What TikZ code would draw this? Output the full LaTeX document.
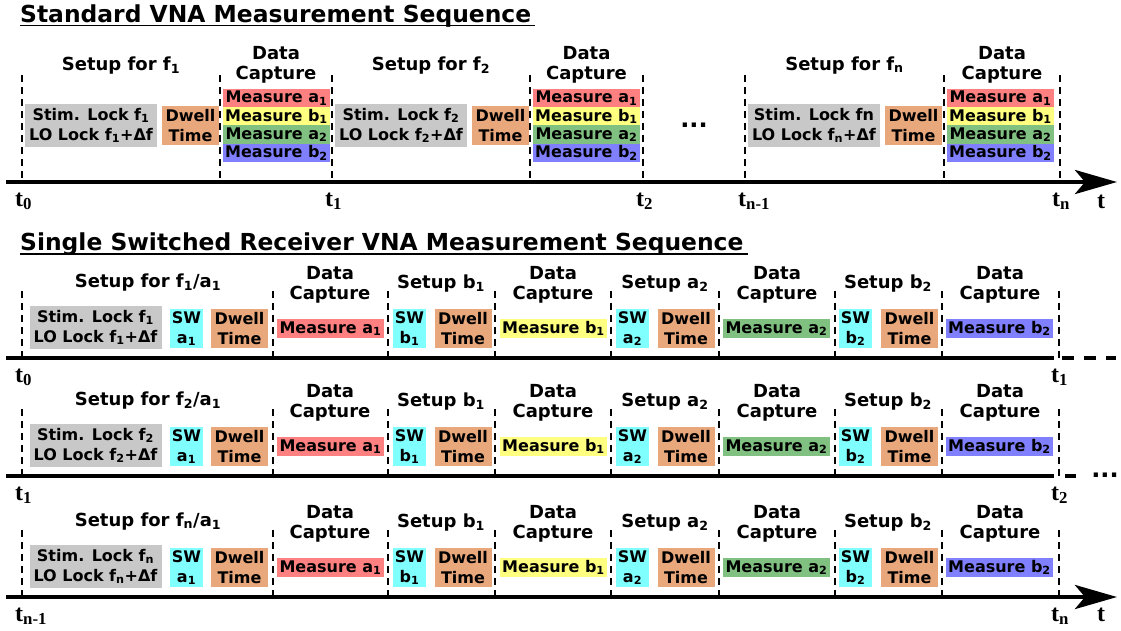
\documentclass[tikz,border=0pt]{standalone}
\usepackage{fontspec}
\setmainfont{DejaVu Sans}
\newfontfamily\tfont{Liberation Serif}
\usetikzlibrary{arrows.meta}

\definecolor{stimgray}{RGB}{200,200,200}
\definecolor{dwellorange}{RGB}{233,168,124}
\definecolor{swcyan}{RGB}{128,255,255}
\definecolor{measred}{RGB}{255,128,128}
\definecolor{measyellow}{RGB}{255,255,128}
\definecolor{measgreen}{RGB}{128,192,128}
\definecolor{measblue}{RGB}{128,128,255}
\newcommand{\sub}[1]{\textsubscript{#1}}

\begin{document}
\begin{tikzpicture}[x=1pt, y=-1pt,
  title/.style={font=\fontsize{23.4}{26}\selectfont\bfseries, anchor=base west, inner sep=0},
  head/.style={font=\fontsize{18}{20}\selectfont\bfseries, align=center, inner sep=0},
  box/.style={font=\fontsize{16}{20}\selectfont\bfseries, align=center, inner sep=0},
  stim/.style={box, fill=stimgray, minimum width=132pt, minimum height=43pt},
  dwell/.style={box, fill=dwellorange, minimum width=57pt, minimum height=39pt},
  sw/.style={box, fill=swcyan, minimum width=33pt, minimum height=39pt},
  meas/.style={box, minimum width=107pt, minimum height=18.2pt},
  tick/.style={font=\fontsize{24}{24}\selectfont\tfont\bfseries, anchor=base west, inner sep=0},
  dots/.style={font=\fontsize{24}{24}\selectfont\bfseries, inner sep=0},
  sep/.style={line width=2.6pt, dash pattern=on 7pt off 5pt},
  axis/.style={line width=4.5pt},
  tip/.style={-{Stealth[length=42pt,width=24pt,inset=10pt]}}]
  \useasboundingbox (0,0) rectangle (1121,630);

  % TITLES
  \node[title] (title1) at (20,22.5) {Standard VNA Measurement Sequence};
  \draw[line width=1.5pt] ([yshift=-3pt]title1.base west) -- ([xshift=4pt,yshift=-3pt]title1.base east);
  \node[title] (title2) at (20,250) {Single Switched Receiver VNA Measurement Sequence};
  \draw[line width=1.5pt] ([yshift=-4pt]title2.base west) -- ([xshift=4pt,yshift=-4pt]title2.base east);

  % STANDARD SEQUENCE
  \coordinate (ax0s) at (6,182);
  \coordinate (ax0e) at (1117,182);
  \draw[axis, tip] (ax0s) -- (ax0e);
  \foreach \s/\m/\e/\f/\g [count=\i] in {22/220/332/1/f\sub{1}, 332/530/643/2/f\sub{2}, 745/944/1060/n/fn} {
    \foreach \x in {\s,\m,\e}
      \draw[sep] (\x,75) -- (\x,182);
    \node[head, anchor=base] (setup\i) at ({(\s+\m)/2},70) {Setup for f\sub{\f}};
    \node[head] (cap\i) at ({(\m+\e)/2},64.5) {Data\\Capture};
    \node[stim] (stim\i) at (\s+69,125.5) {Stim. Lock \g\\LO Lock f\sub{\f}+Δf};
    \node[dwell] (dwell\i) at (\s+168.5,125.5) {Dwell\\Time};
    \foreach \c/\lab [count=\k] in {measred/a\sub{1}, measyellow/b\sub{1}, measgreen/a\sub{2}, measblue/b\sub{2}}
      \node[meas, fill=\c] (m\i-\k) at (\m+56.5,79.9+18.2*\k) {Measure \lab};
  }
  \node[dots] (dots0) at (694,125) {...};
  \node[tick] (t0) at (15,206) {t\sub{0}};
  \node[tick] (t1) at (325,206) {t\sub{1}};
  \node[tick] (t2) at (636,206) {t\sub{2}};
  \node[tick] (tn1) at (738,206) {t\sub{n-1}};
  \node[tick] (tn) at (1052,206) {t\sub{n}};
  \node[tick] (tt0) at (1097,208) {t};

  % SWITCHED RECEIVER SEQUENCE
  \foreach \r/\ay/\f/\tl/\tr in {1/358/1/0/1, 2/476/2/1/2, 3/597/n/n-1/n} {
    \foreach \x in {22,273,388,495,611,719,835,942,1059}
      \draw[sep] (\x,\ay-67) -- (\x,\ay);
    \node[head, anchor=base] (su\r) at (148,\ay-71) {Setup for f\sub{\f}/a\sub{1}};
    \node[head] (dc\r-1) at (330,\ay-73) {Data\\Capture};
    \node[head, anchor=base] (sb\r-1) at (441,\ay-70) {Setup b\sub{1}};
    \node[head] (dc\r-2) at (553,\ay-73) {Data\\Capture};
    \node[head, anchor=base] (sa\r-2) at (665,\ay-70) {Setup a\sub{2}};
    \node[head] (dc\r-3) at (777,\ay-73) {Data\\Capture};
    \node[head, anchor=base] (sb\r-2) at (888,\ay-70) {Setup b\sub{2}};
    \node[head] (dc\r-4) at (1000,\ay-73) {Data\\Capture};

    \node[stim] (stim\r) at (95.5,\ay-30.5) {Stim. Lock f\sub{\f}\\LO Lock f\sub{\f}+Δf};
    \node[sw] (swa\r-1) at (186.5,\ay-29.5) {SW\\a\sub{1}};
    \node[dwell] (dw\r-1) at (239.5,\ay-29.5) {Dwell\\Time};
    \node[meas, fill=measred] (ma\r-1) at (330.5,\ay-29.5) {Measure a\sub{1}};
    \node[sw] (swb\r-1) at (409.5,\ay-29.5) {SW\\b\sub{1}};
    \node[dwell] (dw\r-2) at (463,\ay-29.5) {Dwell\\Time};
    \node[meas, fill=measyellow] (mb\r-1) at (553.5,\ay-29.5) {Measure b\sub{1}};
    \node[sw] (swa\r-2) at (632.5,\ay-29.5) {SW\\a\sub{2}};
    \node[dwell] (dw\r-3) at (686,\ay-29.5) {Dwell\\Time};
    \node[meas, fill=measgreen] (ma\r-2) at (776.5,\ay-29.5) {Measure a\sub{2}};
    \node[sw] (swb\r-2) at (855.5,\ay-29.5) {SW\\b\sub{2}};
    \node[dwell] (dw\r-4) at (909.5,\ay-29.5) {Dwell\\Time};
    \node[meas, fill=measblue] (mb\r-2) at (999.5,\ay-29.5) {Measure b\sub{2}};

    \node[tick] (tl\r) at (15,\ay+24) {t\sub{\tl}};
    \node[tick] (tr\r) at (1051,\ay+24) {t\sub{\tr}};
  }

  % AXES
  \coordinate (ax1s) at (6,358);
  \coordinate (ax1e) at (1054,358);
  \draw[axis] (ax1s) -- (ax1e);
  \draw[axis, dash pattern=on 12pt off 10pt] (1062,358) -- (1116,358);
  \coordinate (ax2s) at (6,476);
  \coordinate (ax2e) at (1054,476);
  \draw[axis] (ax2s) -- (ax2e);
  \draw[axis] (1065,476) -- (1076,476);
  \node[dots] (dots2) at (1105,475) {...};
  \coordinate (ax3s) at (6,597);
  \coordinate (ax3e) at (1117,597);
  \draw[axis, tip] (ax3s) -- (ax3e);
  \node[tick] (tt3) at (1097,621) {t};

\end{tikzpicture}
\end{document}
